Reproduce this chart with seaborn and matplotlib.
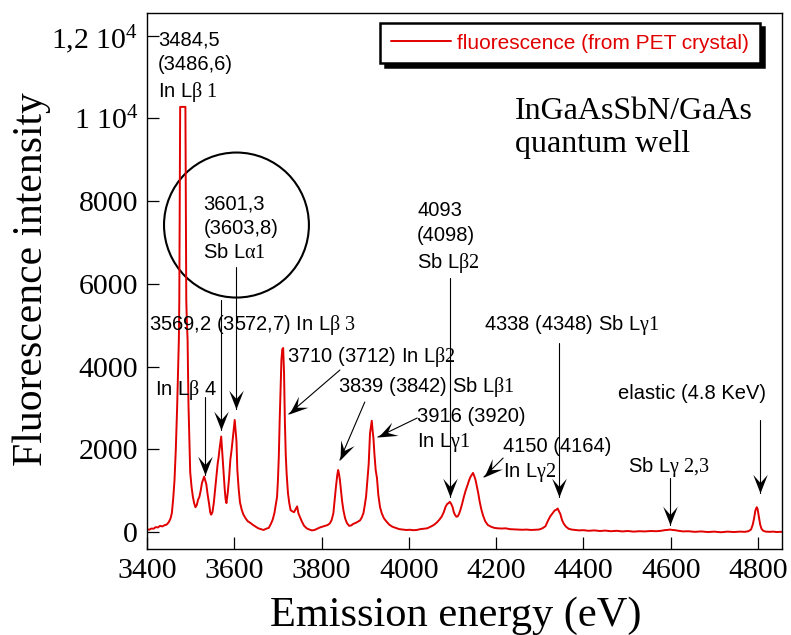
import numpy as np
import pandas as pd
import matplotlib
matplotlib.use("Agg")
import matplotlib.pyplot as plt
from matplotlib.patches import Ellipse
from matplotlib.markers import MarkerStyle
from matplotlib.transforms import Affine2D
import seaborn as sns

# ==============================================================================
# Spectrum (energy in eV, intensity in counts)
# ==============================================================================
energy = [
    3400, 3405, 3410, 3415, 3420, 3425, 3430, 3435, 3440, 3445,
    3450, 3454, 3457, 3460, 3463, 3466, 3469, 3471, 3473, 3474,
    3476, 3480, 3484, 3488, 3490, 3491, 3493, 3495, 3497, 3499,
    3502, 3505, 3508, 3511, 3514, 3517, 3520, 3523, 3526, 3529,
    3531, 3533, 3536, 3539, 3542, 3545, 3547, 3550, 3553, 3556,
    3559, 3562, 3564, 3566, 3568, 3570, 3572, 3574, 3576, 3578,
    3580, 3582, 3585, 3588, 3591, 3594, 3597, 3599, 3601, 3603,
    3605, 3607, 3610, 3613, 3617, 3621, 3626, 3631, 3637, 3643,
    3649, 3655, 3661, 3667, 3673, 3679, 3684, 3688, 3692, 3695,
    3698, 3700, 3702, 3704, 3706, 3708, 3710, 3712, 3714, 3716,
    3718, 3720, 3723, 3726, 3729, 3733, 3737, 3741, 3744, 3747,
    3751, 3755, 3760, 3766, 3772, 3778, 3784, 3790, 3796, 3802,
    3808, 3814, 3819, 3823, 3827, 3830, 3833, 3836, 3838, 3840,
    3842, 3844, 3847, 3850, 3854, 3858, 3863, 3868, 3873, 3878,
    3883, 3888, 3892, 3896, 3899, 3902, 3905, 3908, 3911, 3913,
    3915, 3917, 3919, 3921, 3924, 3927, 3930, 3934, 3938, 3943,
    3949, 3955, 3962, 3970, 3978, 3986, 3994, 4002, 4010, 4018,
    4026, 4034, 4042, 4050, 4057, 4064, 4070, 4075, 4080, 4084,
    4088, 4091, 4094, 4097, 4100, 4103, 4106, 4109, 4112, 4115,
    4118, 4122, 4126, 4130, 4134, 4138, 4141, 4144, 4147, 4150,
    4153, 4156, 4159, 4162, 4166, 4170, 4175, 4181, 4188, 4196,
    4204, 4213, 4222, 4231, 4240, 4250, 4260, 4270, 4280, 4290,
    4298, 4306, 4313, 4319, 4324, 4329, 4334, 4338, 4341, 4344,
    4347, 4351, 4355, 4360, 4366, 4373, 4381, 4390, 4400, 4412,
    4425, 4438, 4450, 4463, 4476, 4489, 4502, 4515, 4528, 4541,
    4554, 4567, 4578, 4586, 4592, 4598, 4604, 4610, 4618, 4628,
    4640, 4655, 4670, 4685, 4700, 4715, 4730, 4745, 4758, 4770,
    4778, 4784, 4788, 4791, 4794, 4797, 4799, 4802, 4805, 4808,
    4812, 4818, 4826, 4835, 4843, 4850, 4855,
]
intensity = [
    70, 55, 85, 80, 120, 110, 150, 135, 165, 180,
    240, 330, 460, 800, 1250, 2000, 3000, 3850, 4650, 5600,
    10280, 10280, 10280, 10280, 5600, 5200, 4650, 3100, 2250, 1450,
    1100, 860, 700, 600, 650, 780, 850, 1000, 1190, 1280,
    1340, 1260, 1150, 900, 700, 470, 420, 480, 700, 1020,
    1350, 1660, 1800, 1990, 2150, 2310, 2000, 1700, 1400, 1050,
    800, 700, 950, 1300, 1750, 2000, 2300, 2500, 2710, 2450,
    2200, 1500, 1050, 720, 540, 420, 330, 260, 220, 170,
    130, 90, 70, 50, 80, 100, 200, 300, 460, 650,
    850, 1250, 1820, 2700, 3430, 4160, 4420, 4450, 3840, 2640,
    1850, 1400, 940, 700, 530, 500, 480, 560, 620, 450,
    350, 250, 150, 90, 60, 40, 50, 80, 110, 130,
    150, 170, 210, 290, 450, 770, 1100, 1380, 1500, 1400,
    1260, 1050, 750, 530, 330, 220, 150, 160, 200, 220,
    250, 280, 350, 460, 650, 860, 1250, 1650, 2390, 2550,
    2690, 2450, 2250, 1900, 1500, 1300, 900, 600, 450, 330,
    250, 180, 130, 100, 70, 60, 50, 55, 45, 50,
    70, 80, 90, 130, 170, 230, 300, 370, 480, 610,
    680, 700, 730, 680, 610, 480, 410, 370, 380, 440,
    530, 680, 850, 1000, 1120, 1250, 1330, 1380, 1430, 1350,
    1250, 1100, 940, 750, 550, 400, 260, 170, 130, 100,
    90, 85, 90, 70, 65, 60, 55, 60, 50, 55,
    60, 90, 140, 280, 380, 450, 520, 540, 570, 500,
    440, 290, 200, 130, 80, 60, 50, 40, 45, 30,
    40, 25, 35, 20, 30, 15, 25, 10, 20, 15,
    25, 20, 30, 45, 50, 60, 50, 45, 30, 15,
    20, 5, 15, 0, 10, -5, 10, 0, 10, 5,
    20, 60, 180, 330, 520, 600, 560, 370, 180, 80,
    30, 10, 5, 10, 0, 5, 5,
]

x_ticks = [3400, 3600, 3800, 4000, 4200, 4400, 4600, 4800]
y_ticks = [0, 2000, 4000, 6000, 8000, 10000, 12000]
y_tick_labels = ["0", "2000", "4000", "6000", "8000",
                 r"$\mathrm{1\ 10^{4}}$", r"$\mathrm{1{,}2\ 10^{4}}$"]

RED = "#e00000"
SANS = ["Liberation Sans", "DejaVu Sans"]

# ==============================================================================
# Style
# ==============================================================================
sns.set_style("ticks")
plt.rcParams["font.family"] = ["Liberation Serif", "DejaVu Serif"]
plt.rcParams["mathtext.fontset"] = "custom"
plt.rcParams["mathtext.rm"] = "Liberation Serif"
plt.rcParams["mathtext.it"] = "Liberation Serif:italic"
plt.rcParams["mathtext.bf"] = "Liberation Serif:bold"
for key in ["text.color", "axes.labelcolor", "xtick.color", "ytick.color",
            "axes.edgecolor"]:
    plt.rcParams[key] = "black"

fig = plt.figure(figsize=(7.91, 6.35), dpi=100)
ax = fig.add_axes([147 / 791, 86 / 635, 635 / 791, 536 / 635])

df = pd.DataFrame({"energy": energy, "intensity": intensity})
sns.lineplot(data=df, x="energy", y="intensity", color=RED, lw=1.4,
             estimator=None, sort=False, ax=ax,
             label="fluorescence (from PET crystal)")

ax.set_xlim(3400, 4855)
ax.set_ylim(-410, 12550)
ax.set_xticks(x_ticks)
ax.set_yticks(y_ticks)
ax.set_yticklabels(y_tick_labels)
ax.tick_params(direction="in", length=8.6, width=0.9, labelsize=21.5, pad=6.3,
               colors="black")
for sp in ax.spines.values():
    sp.set_linewidth(1.0)
    sp.set_color("black")

ax.set_xlabel("Emission energy (eV)", fontsize=30.5)
ax.xaxis.set_label_coords(0.487, -0.089)
ax.set_ylabel("Fluorescence intensity", fontsize=30)
ax.yaxis.set_label_coords(-0.151, 0.504)

# legend with a solid black drop shadow
leg = ax.legend(loc="upper right", bbox_to_anchor=(0.965, 0.981), borderaxespad=0,
                frameon=True, fancybox=False, framealpha=1, edgecolor="black",
                shadow={"color": "black", "alpha": 1, "ox": 3, "oy": -3},
                prop={"family": SANS, "size": 15}, labelcolor=RED,
                handlelength=2.9, handletextpad=0.3, borderpad=0.5)
leg.get_frame().set_linewidth(1.8)

# ==============================================================================
# Peak labels and arrows
# ==============================================================================
def arrow(x0, y0, x1, y1):
    ax.plot([x0, x1], [y0, y1], color="black", lw=0.8)
    p0 = ax.transData.transform((x0, y0))
    p1 = ax.transData.transform((x1, y1))
    ang = np.arctan2(p1[1] - p0[1], p1[0] - p0[0])
    head = [(0, 0), (-18, 7), (-10, 0), (-18, -7), (0, 0)]
    m = MarkerStyle(head, transform=Affine2D().rotate(ang))
    ax.plot([x1], [y1], marker=m, ms=27, color="black", mew=0, ls="none")

def label(x, y, s):
    ax.text(x, y, s, family=SANS, fontsize=14.5, ha="left", va="center",
            linespacing=1.35)

label(3425, 11244, "3484,5\n(3486,6)\n" + r"In L$\mathrm{β\ 1}$")
label(3529, 7351, "3601,3\n(3603,8)\n" + r"Sb L$\mathrm{α1}$")
label(4019, 7109, "4093\n(4098)\n" + r"Sb L$\mathrm{β2}$")
label(3405, 5005, r"3569,2 (3572,7) In L$\mathrm{β\ 3}$")
label(3418, 3434, r"In L$\mathrm{β}$ 4")
label(3720, 4239, r"3710 (3712) In L$\mathrm{β2}$")
label(3838, 3499, r"3839 (3842) Sb L$\mathrm{β1}$")
label(4019, 2459, "3916 (3920)\n" + r"In L$\mathrm{γ1}$")
label(4216, 1734, "4150 (4164)\n" + r"In L$\mathrm{γ2}$")
label(4172, 5005, r"4338 (4348) Sb L$\mathrm{γ1}$")
label(4503, 1579, r"Sb L$\mathrm{γ\ 2{,}3}$")
label(4480, 3353, "elastic (4.8 KeV)")

arrow(3533, 3264, 3533, 1378)
arrow(3569.5, 5610, 3569.5, 2466)
arrow(3604, 6408, 3604, 2974)
arrow(3842, 3917, 3725, 2853)
arrow(3899, 3143, 3842, 1741)
arrow(4019, 2757, 3929, 2297)
arrow(4094, 6142, 4094, 846)
arrow(4216, 1789, 4172, 1330)
arrow(4344, 4570, 4344, 846)
arrow(4598, 1306, 4598, 169)
arrow(4804, 2708, 4804, 943)

ax.add_patch(Ellipse((3605, 7423), 332, 3506, fill=False, lw=1.5, ec="black"))

ax.text(4243, 9769, "InGaAsSbN/GaAs\nquantum well", fontsize=23,
        ha="left", va="center")

fig.savefig("out.png", dpi=100)
plt.close(fig)
